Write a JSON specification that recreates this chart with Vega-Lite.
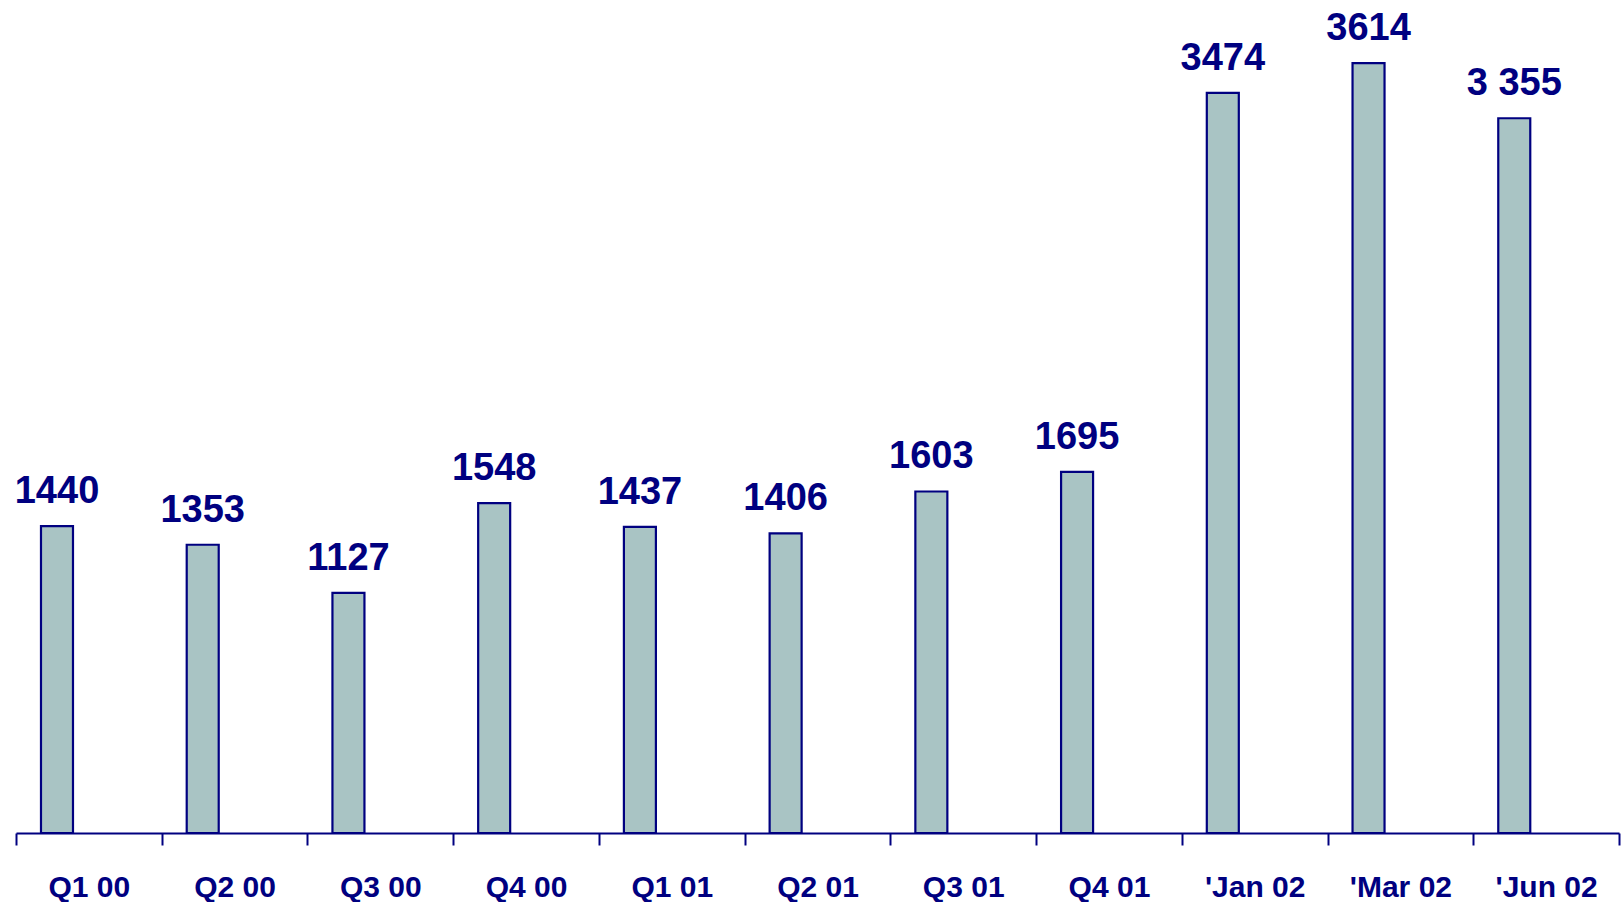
{
  "$schema": "https://vega.github.io/schema/vega-lite/v6.json",
  "width": 1603,
  "height": 833,
  "autosize": {"type": "none"},
  "padding": {"left": 16, "top": 0, "right": 5, "bottom": 69},
  "background": "white",
  "config": {"view": {"stroke": null}},
  "data": {
    "values": [
      {"period": "Q1 00", "value": 1440, "label": "1440", "series": "a"},
      {"period": "Q2 00", "value": 1353, "label": "1353", "series": "a"},
      {"period": "Q3 00", "value": 1127, "label": "1127", "series": "a"},
      {"period": "Q4 00", "value": 1548, "label": "1548", "series": "a"},
      {"period": "Q1 01", "value": 1437, "label": "1437", "series": "a"},
      {"period": "Q2 01", "value": 1406, "label": "1406", "series": "a"},
      {"period": "Q3 01", "value": 1603, "label": "1603", "series": "a"},
      {"period": "Q4 01", "value": 1695, "label": "1695", "series": "a"},
      {"period": "'Jan 02", "value": 3474, "label": "3474", "series": "a"},
      {"period": "'Mar 02", "value": 3614, "label": "3614", "series": "a"},
      {"period": "'Jun 02", "value": 3355, "label": "3 355", "series": "a"}
    ]
  },
  "encoding": {
    "x": {
      "field": "period",
      "type": "nominal",
      "sort": null,
      "scale": {"paddingInner": 0, "paddingOuter": 0},
      "axis": {
        "title": null,
        "labelAngle": 0,
        "tickBand": "extent",
        "domainColor": "#000080",
        "domainWidth": 2,
        "tickColor": "#000080",
        "tickWidth": 2,
        "tickSize": 12,
        "labelFont": "Liberation Sans",
        "labelFontWeight": "bold",
        "labelFontSize": 30,
        "labelColor": "#000080",
        "labelPadding": 27
      }
    },
    "xOffset": {
      "field": "series",
      "type": "nominal",
      "scale": {"domain": ["a", "b"], "paddingInner": 0.498, "paddingOuter": 0.392}
    },
    "y": {
      "field": "value",
      "type": "quantitative",
      "scale": {"domain": [0, 3910], "nice": false, "zero": true},
      "axis": null
    }
  },
  "layer": [
    {
      "mark": {"type": "bar", "fill": "#A9C4C4", "stroke": "#000080", "strokeWidth": 2.2}
    },
    {
      "mark": {
        "type": "text",
        "baseline": "bottom",
        "dy": -15,
        "font": "Liberation Sans",
        "fontWeight": "bold",
        "fontSize": 38,
        "fill": "#000080"
      },
      "encoding": {"text": {"field": "label", "type": "nominal"}}
    }
  ]
}
